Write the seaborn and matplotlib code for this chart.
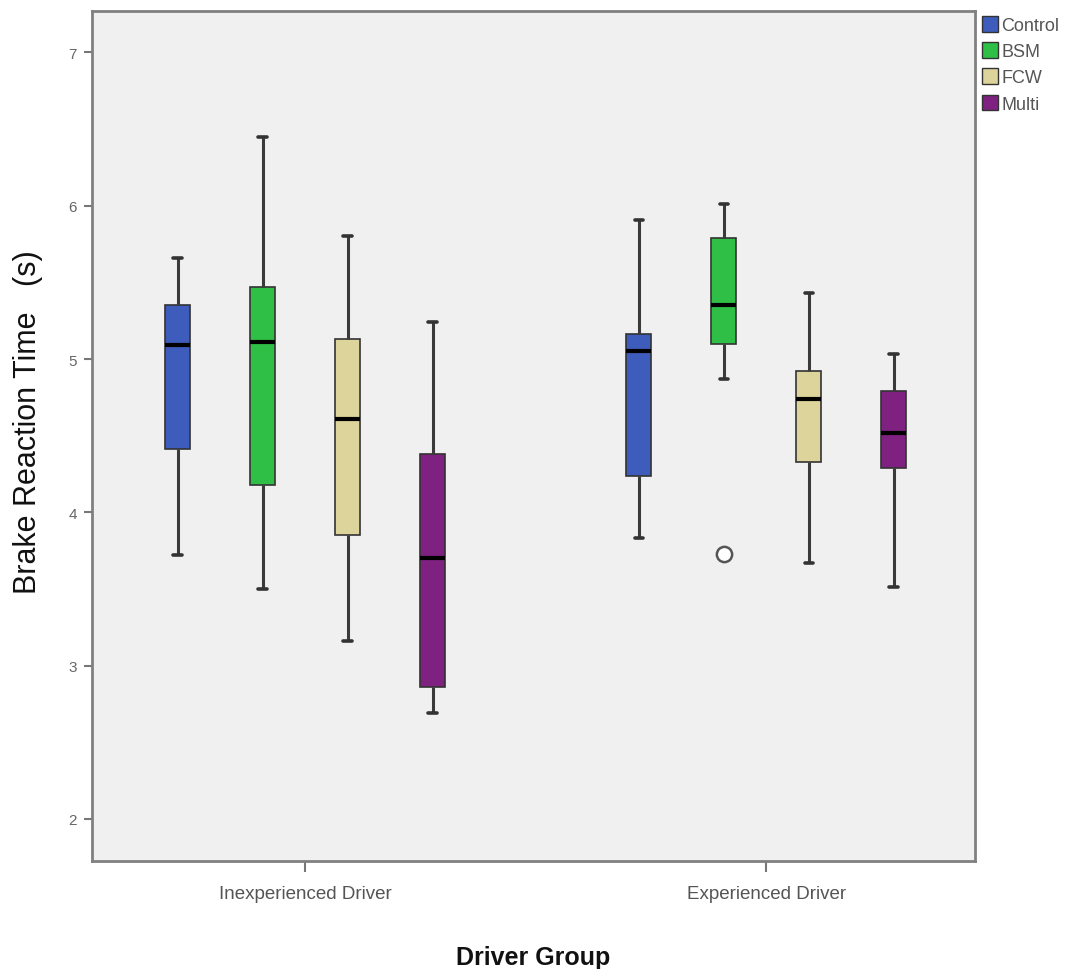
"""Boxplot brake reaction time theo nhom tai xe va loai canh bao."""

import matplotlib
matplotlib.use("Agg")
import matplotlib.pyplot as plt
import pandas as pd
import seaborn as sns
from matplotlib.patches import Patch

groups = ["Inexperienced Driver", "Experienced Driver"]
conditions = ["Control", "BSM", "FCW", "Multi"]
colors = ["#3d5cbb", "#2fbf47", "#dcd49a", "#7e2180"]

# gia tri doc tu hinh: min, Q1, median, Q3, max (BSM kinh nghiem co them 1 outlier)
inexp_control = [3.72, 4.41, 5.09, 5.35, 5.66]
inexp_bsm = [3.50, 4.18, 5.11, 5.47, 6.45]
inexp_fcw = [3.16, 3.85, 4.61, 5.13, 5.80]
inexp_multi = [2.69, 2.86, 3.70, 4.38, 5.24]
exp_control = [3.83, 4.24, 5.05, 5.16, 5.91]
exp_bsm = [3.73, 4.87, 5.10, 5.22, 5.35, 5.60, 5.79, 5.90, 6.01]
exp_fcw = [3.67, 4.33, 4.74, 4.92, 5.43]
exp_multi = [3.51, 4.29, 4.52, 4.79, 5.03]

series = {
    ("Inexperienced Driver", "Control"): inexp_control,
    ("Inexperienced Driver", "BSM"): inexp_bsm,
    ("Inexperienced Driver", "FCW"): inexp_fcw,
    ("Inexperienced Driver", "Multi"): inexp_multi,
    ("Experienced Driver", "Control"): exp_control,
    ("Experienced Driver", "BSM"): exp_bsm,
    ("Experienced Driver", "FCW"): exp_fcw,
    ("Experienced Driver", "Multi"): exp_multi,
}

rows = []
for (g, c), vals in series.items():
    for v in vals:
        rows.append({"Driver Group": g, "Condition": c, "BRT": v})
df = pd.DataFrame(rows)

sns.set_style("white")
plt.rcParams["font.family"] = ["Liberation Sans", "DejaVu Sans"]

fig = plt.figure(figsize=(10.88, 9.70), dpi=100)
ax = fig.add_axes([0.0846, 0.1113, 0.8116, 0.8763])
ax.set_facecolor("#f0f0f0")

sns.boxplot(
    data=df, x="Driver Group", y="BRT", hue="Condition",
    order=groups, hue_order=conditions, palette=colors, saturation=1,
    width=0.737, gap=0.7, whis=1.6, ax=ax, legend=False,
    boxprops=dict(edgecolor="#333333", linewidth=1.2),
    whiskerprops=dict(color="#3a3a3a", linewidth=2.2),
    capprops=dict(color="#333333", linewidth=2.6),
    medianprops=dict(color="black", linewidth=3),
    flierprops=dict(marker="o", markersize=11, markerfacecolor="white",
                    markeredgecolor="#555555", markeredgewidth=1.8),
    capwidths=0.018,
)
for p in ax.patches:
    p.set_edgecolor("#333333")
    p.set_alpha(1)

ax.set_ylim(1.725, 7.27)
ax.set_xlim(-0.462, 1.453)
ax.set_yticks([2, 3, 4, 5, 6, 7])
ax.set_yticklabels(["2", "3", "4", "5", "6", "7"], color="#666666", fontsize=11)
ax.set_xticks([0, 1])
ax.set_xticklabels(groups, color="#555555", fontsize=13.5)
ax.tick_params(axis="y", length=6, width=1.5, color="#777777", left=True, pad=5)
ax.tick_params(axis="x", length=8, width=1.5, color="#777777", bottom=True, pad=9)

for side in ["left", "bottom", "top", "right"]:
    ax.spines[side].set_color("#808080")
    ax.spines[side].set_linewidth(2)

ax.set_ylabel("Brake Reaction Time   (s)", fontsize=22, color="#111111")
ax.yaxis.set_label_coords(-0.056, 0.518)
ax.set_xlabel("Driver Group", fontsize=18, fontweight="bold", labelpad=31, color="#111111")

handles = [Patch(facecolor=col, edgecolor="#333333", label=lab) for col, lab in zip(colors, conditions)]
leg = ax.legend(handles=handles, loc="upper left", bbox_to_anchor=(1.006, 0.996),
                frameon=False, fontsize=13, handlelength=0.85, handleheight=0.95,
                handletextpad=0.2, borderaxespad=0.1, borderpad=0.0, labelspacing=0.45)
for t in leg.get_texts():
    t.set_color("#555555")

fig.savefig("out.png", dpi=100)
